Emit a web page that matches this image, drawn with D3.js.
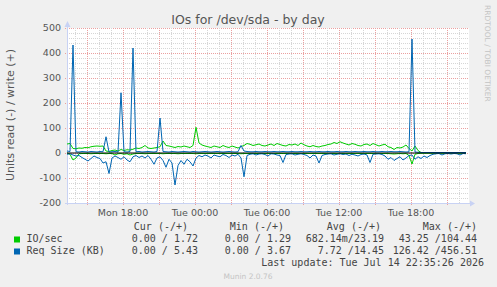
<!DOCTYPE html>
<meta charset="utf-8">
<style>
  body { margin: 0; background: #f0f0f0; }
  svg text { font-family: "DejaVu Sans", sans-serif; fill: #555; }
  svg text.mono { font-family: "DejaVu Sans Mono", monospace; font-size: 10px; fill: #444; }
</style>
<script src="https://d3js.org/d3.v7.min.js"></script>
<svg width="497" height="287"></svg>
<script>
// samples every 15 min starting Mon 13:20
const t0 = new Date(2026, 6, 13, 13, 20);
const tEnd = new Date(2026, 6, 14, 22, 50);
const stepMin = 15;

const ioWrite = [
  36,38,18,17,20,19,22,21,25,27,
  28,27,28,8,6,10,12,8,14,10,
  13,12,15,20,18,22,30,20,18,20,
  22,25,48,30,28,25,22,26,24,28,
  25,22,30,103,40,32,28,25,22,28,
  25,22,30,25,22,28,24,20,26,30,
  38,35,30,33,36,30,28,32,36,30,
  38,34,30,28,34,32,36,30,40,33,
  28,25,30,26,24,28,30,34,36,42,
  38,45,40,36,32,38,35,30,28,34,
  36,30,38,33,28,32,35,25,22,14,
  22,20,24,32,18,8,28,10,2,2,
  2,2,2,2,2,2,2,2,2,2,
  2,2,2,2
];
const ioRead = [
  0,5,28,20,3,2,2,2,3,2,
  2,2,2,3,2,2,8,3,2,5,
  3,8,4,2,2,2,3,2,2,2,
  2,2,3,2,2,2,2,3,2,2,
  2,2,2,3,2,2,2,2,2,2,
  2,2,2,2,2,2,2,2,3,2,
  2,2,2,2,2,2,2,2,2,2,
  2,2,2,2,2,2,2,2,2,2,
  2,2,2,2,2,2,2,2,2,2,
  2,2,2,2,2,2,2,2,2,2,
  2,2,2,2,2,2,2,2,3,4,
  3,2,3,2,10,44,5,2,1,1,
  1,1,1,1,1,1,1,1,1,1,
  1,1,1,1
];
const reqWrite = [
  8,6,432,5,4,6,5,4,6,5,
  4,6,5,65,4,5,6,4,241,5,
  4,6,420,5,6,4,5,6,5,4,
  6,140,6,5,4,6,5,4,5,6,
  5,4,6,5,4,5,6,5,4,5,
  6,5,4,5,6,5,4,5,30,8,
  6,5,5,6,5,5,6,5,5,6,
  5,5,6,5,5,6,5,5,6,5,
  5,6,5,5,6,5,5,6,5,5,
  6,5,5,6,5,5,6,5,5,6,
  5,5,6,5,5,6,5,5,6,5,
  5,6,5,4,5,456,4,3,2,2,
  2,2,2,2,2,2,2,2,2,2,
  2,2,2,2
];
const reqRead = [
  5,3,8,12,10,18,25,32,22,12,
  18,22,40,35,82,20,12,18,25,15,
  28,35,15,10,18,12,20,10,25,45,
  20,15,30,57,25,40,128,50,30,45,
  25,35,52,20,10,15,8,12,20,8,
  12,15,6,10,18,8,12,5,20,95,
  10,5,3,8,4,3,6,12,3,4,
  8,10,38,6,4,3,8,5,3,6,
  10,20,8,12,40,10,6,4,3,8,
  5,3,6,4,10,5,8,12,6,4,
  8,38,5,4,3,6,12,25,18,30,
  22,15,28,20,10,8,25,15,22,12,
  18,10,5,3,2,8,3,2,4,2,
  3,8,2,3
];

const yTicks = [-200, -100, 0, 100, 200, 300, 400, 500];
const legendHead = ['Cur (-/+)', 'Min (-/+)', 'Avg (-/+)', 'Max (-/+)'];
const series = [
  { name: 'IO/sec', color: '#00cc00', vals: ['0.00 / 1.72', '0.00 / 1.29', '682.14m/23.19', '43.25 /104.44'] },
  { name: 'Req Size (KB)', color: '#0066b3', vals: ['0.00 / 5.43', '0.00 / 3.67', '7.72 /14.45', '126.42 /456.51'] }
];

const svg = d3.select('svg');
const time = i => d3.timeMinute.offset(t0, i * stepMin);

const x = d3.scaleTime().domain([t0, tEnd]).range([67, 469]);
const y = d3.scaleLinear().domain([-200, 500]).range([203, 28]);
const [x0, x1] = x.range();
const [yb, yt] = y.range();

svg.append('rect').attr('width', 497).attr('height', 287).attr('fill', '#f0f0f0');
svg.append('rect').attr('x', x0).attr('y', yt).attr('width', x1 - x0).attr('height', yb - yt).attr('fill', '#fff');

// grid
const grid = svg.append('g').attr('shape-rendering', 'crispEdges');
d3.range(-200, 501, 20).forEach(v => {
  const major = v % 100 === 0;
  const py = Math.round(y(v)) + 0.5;
  grid.append('line')
    .attr('x1', major ? x0 - 2 : x0).attr('x2', x1)
    .attr('y1', py).attr('y2', py)
    .attr('stroke', major ? '#eba0a0' : '#d6d6d6')
    .attr('stroke-dasharray', '1,1');
});
x.ticks(d3.timeHour.every(1)).forEach(t => {
  const major = t.getHours() % 3 === 0;
  const px = Math.round(x(t)) + 0.5;
  grid.append('line')
    .attr('x1', px).attr('x2', px)
    .attr('y1', yt).attr('y2', major ? yb + 2 : yb)
    .attr('stroke', major ? '#eba0a0' : '#d6d6d6')
    .attr('stroke-dasharray', '1,1');
});

// axes
const axisCol = '#c8d2f4';
svg.append('line').attr('x1', x0 + 0.5).attr('x2', x0 + 0.5).attr('y1', yb + 2).attr('y2', yt - 4).attr('stroke', axisCol);
svg.append('line').attr('x1', x0 - 2).attr('x2', x1 + 2).attr('y1', yb + 0.5).attr('y2', yb + 0.5).attr('stroke', axisCol);
svg.append('path').attr('d', `M${x0 - 2.5},${yt - 1}L${x0 + 3.5},${yt - 1}L${x0 + 0.5},${yt - 7}Z`).attr('fill', axisCol);
svg.append('path').attr('d', `M${x1 + 1},${yb - 2.5}L${x1 + 1},${yb + 3.5}L${x1 + 6},${yb + 0.5}Z`).attr('fill', axisCol);

// tick labels
svg.selectAll('.yl').data(yTicks).enter().append('text')
  .attr('x', 61).attr('y', d => y(d) + 3.4)
  .attr('text-anchor', 'end').attr('font-size', '9.5px')
  .text(d => d);
const fmt = d3.timeFormat('%a %H:%M');
svg.selectAll('.xl').data(x.ticks(d3.timeHour.every(6))).enter().append('text')
  .attr('x', d => x(d)).attr('y', 216)
  .attr('text-anchor', 'middle').attr('font-size', '9.5px')
  .text(d => fmt(d));

// data lines
const line = sign => d3.line().x((d, i) => x(time(i))).y(d => y(sign * d));
const drawLine = (data, sign, color) =>
  svg.append('path').datum(data).attr('d', line(sign)).attr('fill', 'none')
    .attr('stroke', color).attr('stroke-width', 1);
drawLine(ioRead, -1, '#00cc00');
drawLine(ioWrite, 1, '#00cc00');
drawLine(reqRead, -1, '#0066b3');
drawLine(reqWrite, 1, '#0066b3');
svg.append('line')
  .attr('x1', x(t0)).attr('x2', x(time(ioWrite.length - 1)))
  .attr('y1', y(0)).attr('y2', y(0))
  .attr('stroke', '#000').attr('stroke-width', 1);

// titles
svg.append('text').attr('x', 248).attr('y', 24).attr('text-anchor', 'middle')
  .attr('font-size', '12.5px').text('IOs for /dev/sda - by day');
svg.append('text').attr('transform', 'translate(14,115) rotate(-90)')
  .attr('text-anchor', 'middle').attr('font-size', '11px')
  .text('Units read (-) / write (+)');
svg.append('text').attr('transform', 'translate(484.5,5) rotate(90)')
  .attr('font-size', '7.5px').style('fill', '#c4c4c4')
  .text('RRDTOOL / TOBI OETIKER');

// legend
const headEnd = [188, 284, 381, 477];
const valEnd = [198, 291, 384, 477];
legendHead.forEach((h, i) => {
  svg.append('text').attr('class', 'mono').attr('x', headEnd[i]).attr('y', 230)
    .attr('text-anchor', 'end').text(h);
});
series.forEach((s, r) => {
  const by = 242 + r * 12;
  svg.append('rect').attr('x', 14).attr('y', by - 5.5).attr('width', 6).attr('height', 6).attr('fill', s.color);
  svg.append('text').attr('class', 'mono').attr('x', 26.5).attr('y', by).text(s.name);
  s.vals.forEach((v, i) => {
    svg.append('text').attr('class', 'mono').attr('x', valEnd[i]).attr('y', by)
      .attr('text-anchor', 'end').text(v);
  });
});
svg.append('text').attr('class', 'mono').attr('x', 484).attr('y', 266)
  .attr('text-anchor', 'end').text('Last update: Tue Jul 14 22:35:26 2026');
svg.append('text').attr('x', 248).attr('y', 279).attr('text-anchor', 'middle')
  .attr('font-size', '7.5px').style('fill', '#c4c4c4').text('Munin 2.0.76');
</script>
